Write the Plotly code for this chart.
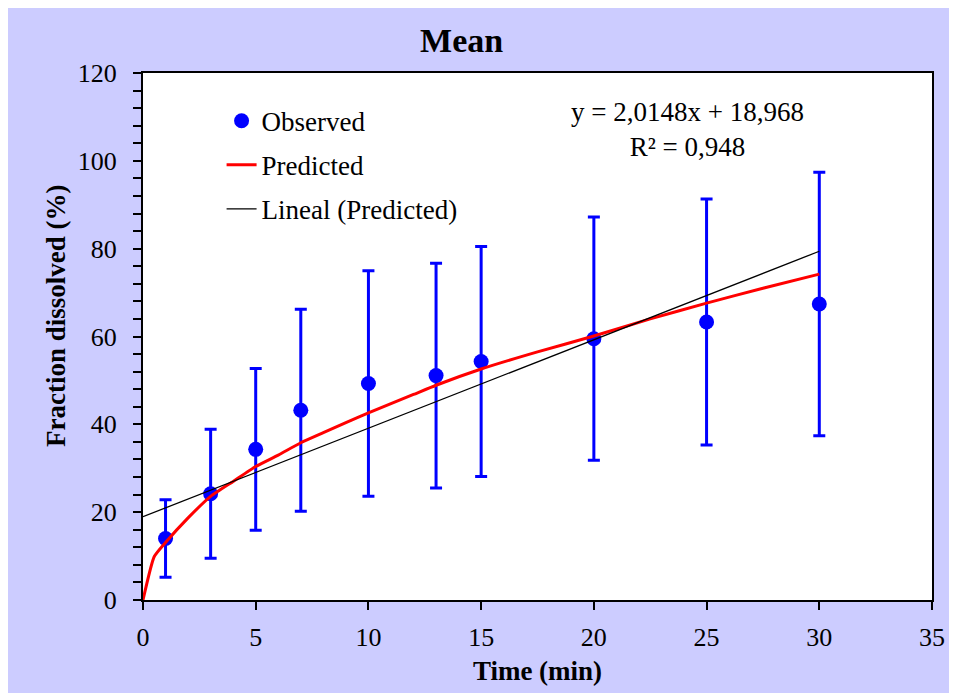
import plotly.graph_objects as go

# observed means with standard deviation
time_obs = [1, 3, 5, 7, 10, 13, 15, 20, 25, 30]
frac_obs = [14.0, 24.2, 34.3, 43.2, 49.3, 51.1, 54.3, 59.5, 63.3, 67.4]
frac_sd = [8.8, 14.7, 18.4, 23.0, 25.7, 25.6, 26.2, 27.7, 28.0, 30.0]

# predicted curve
time_pred = [0, 0.5, 1, 2, 3, 4, 5, 6, 7, 8, 9, 10, 12, 13, 15, 17.5, 20, 22.5, 25, 27.5, 30]
frac_pred = [0, 9.9, 13.1, 18.7, 23.6, 27.0, 30.4, 33.0, 35.8, 38.1, 40.4, 42.6, 46.8,
             48.9, 52.6, 56.5, 60.1, 64.0, 67.6, 71.0, 74.2]

# linear trend of predicted
time_lin = [0, 30]
frac_lin = [18.968, 79.412]

serif = "Liberation Serif, Times New Roman, serif"

fig = go.Figure()

fig.add_trace(go.Scatter(
    x=time_obs, y=frac_obs, mode="markers", name="Observed",
    marker=dict(color="#0000ff", size=15),
    error_y=dict(type="data", array=frac_sd, color="#0000ff", thickness=3, width=6),
    legendgroup="a",
))
fig.add_trace(go.Scatter(
    x=time_pred, y=frac_pred, mode="lines", name="Predicted",
    line=dict(color="#ff0000", width=3, shape="spline", smoothing=0.5), legendgroup="b",
))
fig.add_trace(go.Scatter(
    x=time_lin, y=frac_lin, mode="lines", name="Lineal (Predicted)",
    line=dict(color="#000000", width=1.3), legendgroup="c",
))

fig.add_annotation(
    x=0.69, y=0.893, xref="paper", yref="paper", showarrow=False,
    xanchor="center", yanchor="middle",
    text="y = 2,0148x + 18,968<br>R² = 0,948", align="center",
    font=dict(family=serif, size=27, color="black"),
)

# y-axis title placed as annotation (sits a bit above the axis centre)
fig.add_annotation(
    x=(55 - 143) / 793, y=(601 - 316) / 528, xref="paper", yref="paper",
    showarrow=False, textangle=-90, xanchor="center", yanchor="middle",
    text="<b>Fraction dissolved (%)</b>",
    font=dict(family=serif, size=27, color="black"),
)

# page body adds 8px offset, so the figure is 8px smaller
fig.update_layout(
    width=949, height=685,
    margin=dict(l=135, r=21, t=65, b=92),
    paper_bgcolor="#ccccff", plot_bgcolor="white",
    font=dict(family=serif, size=26, color="black"),
    title=dict(text="<b>Mean</b>", x=0.478, xanchor="center", y=1 - 32 / 685, yanchor="middle",
               font=dict(family=serif, size=34, color="black")),
    showlegend=True,
    legend=dict(x=0.0996, y=0.955, xanchor="left", yanchor="top",
                bgcolor="rgba(0,0,0,0)", font=dict(family=serif, size=27),
                tracegroupgap=6, traceorder="grouped"),
)

fig.update_xaxes(
    range=[0, 35], dtick=5, showgrid=False, zeroline=False,
    showline=True, linecolor="black", linewidth=2, mirror=True,
    ticks="outside", ticklen=8, tickwidth=2, tickcolor="black",
    ticklabelstandoff=5,
    title=dict(text="<b>Time (min)</b>", standoff=10,
               font=dict(family=serif, size=27)),
)
fig.update_yaxes(
    range=[0, 120], dtick=20, showgrid=False, zeroline=False,
    showline=True, linecolor="black", linewidth=2, mirror=True,
    ticks="outside", ticklen=8, tickwidth=2, tickcolor="black",
    minor=dict(dtick=4, ticks="outside", ticklen=8, tickwidth=2, tickcolor="black"),
    ticklabelstandoff=11,
)

fig.write_html("out.html")
